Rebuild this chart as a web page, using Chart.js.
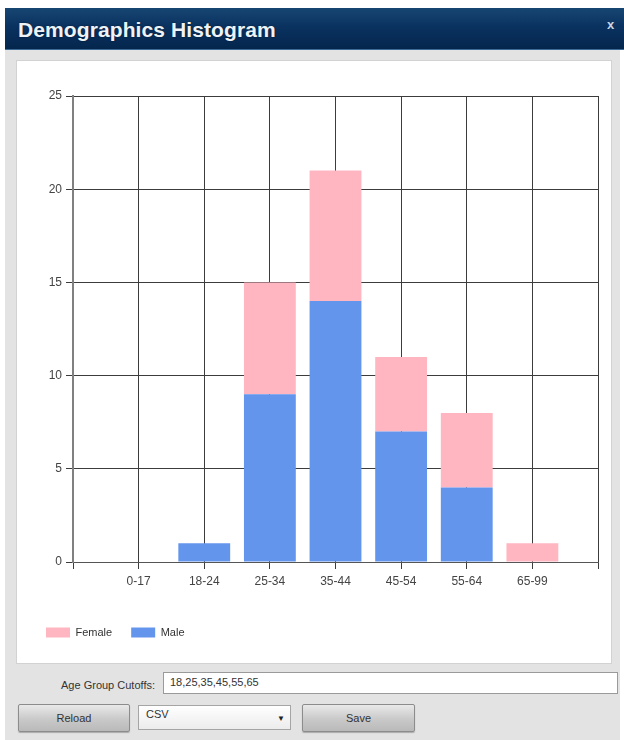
<!DOCTYPE html>
<html>
<head>
<meta charset="utf-8">
<title>Demographics Histogram</title>
<script src="https://cdn.jsdelivr.net/npm/chart.js@4/dist/chart.umd.min.js"></script>
<style>
  html, body { margin: 0; padding: 0; background: #ffffff; width: 624px; height: 740px; overflow: hidden; }
  body { position: relative; font-family: "Liberation Sans", Arial, sans-serif; }
  #titlebar {
    position: absolute; left: 5px; top: 8px; width: 619px; height: 42px;
    background: linear-gradient(#174672, #0a3260 45%, #04264d);
    border-bottom: 1px solid #3d6b96;
    box-sizing: border-box;
  }
  #titlebar .title {
    position: absolute; left: 13px; top: 10px;
    color: #eef3f8; font-weight: bold; font-size: 21px; letter-spacing: 0.1px;
    text-shadow: 0 0 2px rgba(0,0,0,0.5);
  }
  #titlebar .close {
    position: absolute; right: 8px; top: 11px; width: 11px; height: 12px;
    color: #c9d5e2; font-size: 13px; font-weight: bold; line-height: 12px; text-align: center;
  }
  #panel {
    position: absolute; left: 5px; top: 50px; width: 615px; height: 690px;
    background: #e3e3e3;
  }
  #plotbox {
    position: absolute; left: 11px; top: 10px; width: 596px; height: 604px;
    background: #ffffff; border: 1px solid #d2d2d2; box-sizing: border-box;
  }
  #chart { position: absolute; left: -1px; top: 0px; }
  .lbl {
    position: absolute; left: 0; width: 150px; top: 629px; text-align: right;
    font-size: 11px; color: #333;
  }
  .input {
    position: absolute; left: 158px; top: 622px; width: 455px; height: 22px;
    background: #fff; border: 1px solid #9a9a9a; box-sizing: border-box;
    font-size: 11px; color: #333; line-height: 18px; padding-left: 6px;
  }
  .btn {
    position: absolute; top: 654px; height: 28px; box-sizing: border-box;
    border: 1px solid #8c8c8c; border-radius: 2px;
    background: linear-gradient(#e9e9e9, #c9c9c9 55%, #b9b9b9);
    font-size: 11px; color: #333; text-align: center; line-height: 26px;
    box-shadow: 0 1px 1px rgba(0,0,0,0.25);
  }
  .reload { left: 13px; width: 112px; }
  .save { left: 297px; width: 113px; }
  .select {
    position: absolute; left: 133px; top: 655px; width: 153px; height: 25px; box-sizing: border-box;
    border: 1px solid #a5a5a5; background: linear-gradient(#ffffff, #ececec);
    font-size: 11px; color: #333; line-height: 17px; padding-left: 7px;
  }
  .select .arrow { position: absolute; right: 5px; top: 4px; font-size: 8px; color: #222; }
</style>
</head>
<body>
<div id="titlebar"><span class="title">Demographics Histogram</span><span class="close">x</span></div>
<div id="panel">
  <div id="plotbox"><canvas id="chart" width="596" height="602"></canvas></div>
  <div class="lbl">Age Group Cutoffs:</div>
  <div class="input" id="cutoffs"></div>
  <div class="btn reload">Reload</div>
  <div class="select">CSV<span class="arrow">&#9660;</span></div>
  <div class="btn save">Save</div>
</div>
<script>
// Age brackets and head counts per bracket
const ageGroups = ['0-17', '18-24', '25-34', '35-44', '45-54', '55-64', '65-99'];
const maleCounts = [0, 1, 9, 14, 7, 4, 0];
const femaleCounts = [0, 0, 6, 7, 4, 4, 1];
const cutoffs = [18, 25, 35, 45, 55, 65];
const yTicks = [0, 5, 10, 15, 20, 25];

document.getElementById('cutoffs').textContent = cutoffs.join(',');

// bars sit on a numeric x axis so an empty slot is left on each side
const toPoints = (arr) => arr.map((v, i) => ({ x: i, y: v }));

const tickFont = { family: '"Liberation Sans", Arial, sans-serif', size: 12 };

new Chart(document.getElementById('chart'), {
  type: 'bar',
  data: {
    datasets: [
      { label: 'Male', data: toPoints(maleCounts), backgroundColor: '#6495ed', borderWidth: 0 },
      { label: 'Female', data: toPoints(femaleCounts), backgroundColor: '#ffb6c1', borderWidth: 0 }
    ]
  },
  options: {
    responsive: false,
    animation: false,
    devicePixelRatio: 1,
    barPercentage: 0.79,
    categoryPercentage: 1,
    layout: { padding: { left: 11, right: 14, top: 35, bottom: 15 } },
    plugins: {
      tooltip: { enabled: false },
      legend: {
        position: 'bottom',
        align: 'start',
        reverse: true,
        labels: {
          boxWidth: 24, boxHeight: 10, padding: 19,
          color: '#333',
          font: { family: '"Liberation Sans", Arial, sans-serif', size: 11 }
        }
      }
    },
    scales: {
      x: {
        type: 'linear',
        stacked: true,
        offset: false,
        min: -1, max: ageGroups.length,
        grid: { offset: false, color: '#3c3c3c', lineWidth: 1, tickLength: 7, drawTicks: true },
        border: { color: '#555', width: 1 },
        ticks: {
          stepSize: 1, autoSkip: false, maxRotation: 0, padding: 5,
          color: '#444', font: tickFont,
          callback: (v) => ageGroups[v] ?? ''
        },
        afterFit: (s) => { s.height = 46; }
      },
      y: {
        stacked: true,
        min: 0, max: 25,
        grid: { color: '#3c3c3c', lineWidth: 1, tickLength: 7 },
        border: { color: '#808080', width: 2 },
        ticks: { stepSize: 5, padding: 4, color: '#444', font: tickFont },
        afterBuildTicks: (s) => { s.ticks = yTicks.map(v => ({ value: v })); },
        afterFit: (s) => { s.width = 46; }
      }
    }
  }
});
</script>
</body>
</html>
